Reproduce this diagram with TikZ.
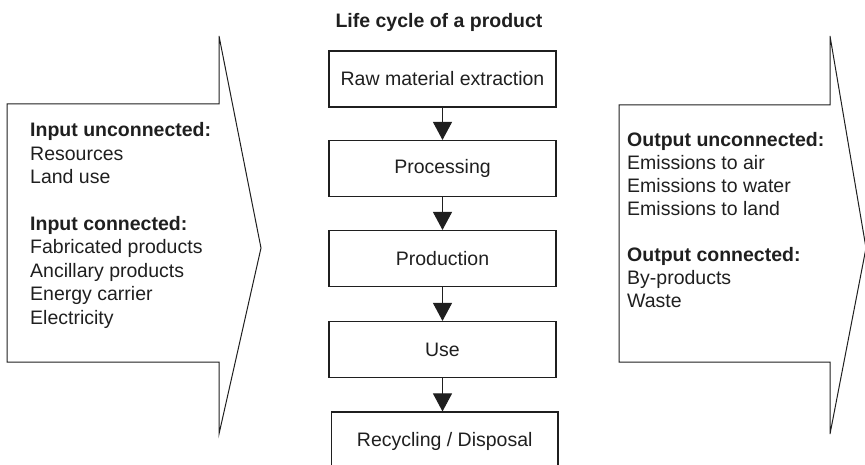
\documentclass[tikz,border=0pt]{standalone}
\usepackage{fontspec}
\setmainfont{Liberation Sans}
\usetikzlibrary{arrows.meta}
\definecolor{ink}{gray}{0.12}
\begin{document}
\begin{tikzpicture}[x=1pt,y=-1pt,
  txt/.style={font=\fontsize{19.5}{23.4}\selectfont, text=ink, inner sep=0pt},
  head/.style={font=\fontsize{19.5}{23.4}\selectfont\bfseries, text=ink, inner sep=0pt},
  stage/.style={txt, draw=ink, line width=1.1pt, minimum width=227pt, minimum height=56pt},
  flow/.style={draw=ink, line width=1pt, -{Triangle[width=19pt,length=18pt]}},
  blockarrow/.style={draw=ink, line width=1pt, line join=miter}
]
\useasboundingbox (0,0) rectangle (865,465);

% title
\node[head, anchor=base] (title) at (439,28) {Life cycle of a product};

% life-cycle stages
\node[stage] (raw)  at (442.5,79)    {Raw material extraction};
\node[stage] (proc) at (442.5,168.5) {Processing};
\node[stage] (prod) at (442.5,258.5) {Production};
\node[stage] (use)  at (442.5,349.5) {Use};
\node[stage, minimum width=226.5pt, minimum height=58pt] (rec) at (444.75,441) {Recycling / Disposal};

\draw[flow] (raw)  -- (proc);
\draw[flow] (proc) -- (prod);
\draw[flow] (prod) -- (use);
\draw[flow] (use.south) -- (use.south |- rec.north);

% input block arrow
\draw[blockarrow] (7,104) -- (219,104) -- (219,36) -- (261,248) -- (219,434)
  -- (219,362) -- (7,362) -- cycle;
\foreach \k/\t in {0/{\textbf{Input unconnected:}}, 1/Resources, 2/Land use,
    4/{\textbf{Input connected:}}, 5/Fabricated products, 6/Ancillary products,
    7/Energy carrier, 8/Electricity}
  \node[txt, anchor=base west] (in-\k) at (30, 137+23.4*\k) {\t};

% output block arrow
\draw[blockarrow] (619,105) -- (830,105) -- (830,36) -- (866,248) -- (830,434)
  -- (830,362) -- (619,362) -- cycle;
\foreach \k/\t in {0/{\textbf{Output unconnected:}}, 1/Emissions to air,
    2/Emissions to water, 3/Emissions to land,
    5/{\textbf{Output connected:}}, 6/By-products, 7/Waste}
  \node[txt, anchor=base west] (out-\k) at (627, 146.5+23*\k) {\t};
\end{tikzpicture}
\end{document}
